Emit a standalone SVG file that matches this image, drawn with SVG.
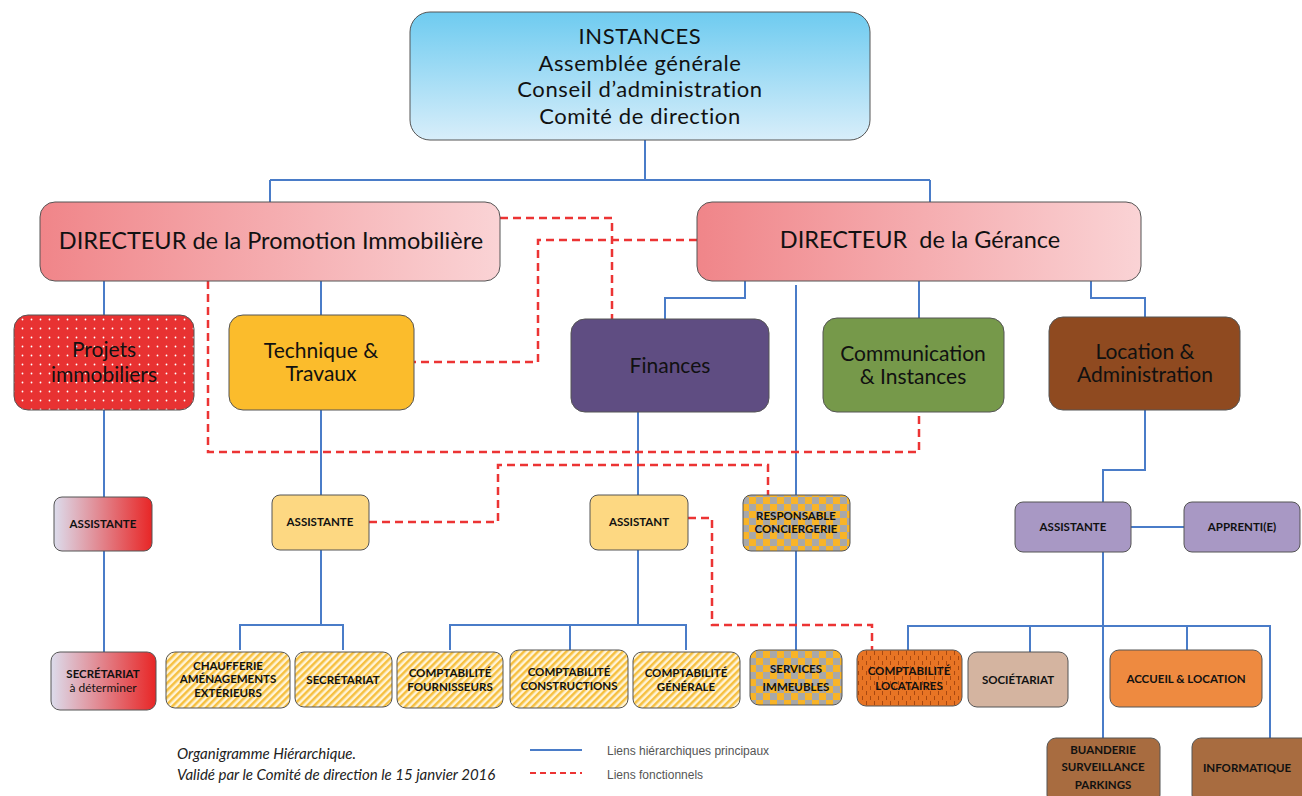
<svg xmlns="http://www.w3.org/2000/svg" width="1302" height="796" viewBox="0 0 1302 796">
<defs>
<linearGradient id="gTop" x1="0" y1="0" x2="0" y2="1"><stop offset="0" stop-color="#6ecbf0"/><stop offset="1" stop-color="#d8eefa"/></linearGradient>
<linearGradient id="gDir" x1="0" y1="0" x2="1" y2="0"><stop offset="0" stop-color="#f08589"/><stop offset="1" stop-color="#fad3d5"/></linearGradient>
<linearGradient id="gRed" x1="0" y1="0" x2="1" y2="0"><stop offset="0" stop-color="#dcdcec"/><stop offset="1" stop-color="#e82626"/></linearGradient>
<pattern id="dots" width="9" height="9" patternUnits="userSpaceOnUse"><rect width="9" height="9" fill="#e83232"/><circle cx="4.5" cy="4.5" r="0.9" fill="#ffffff"/></pattern>
<pattern id="stripes" width="5" height="5" patternUnits="userSpaceOnUse" patternTransform="rotate(45)"><rect width="5" height="5" fill="#fff4d8"/><rect width="2.5" height="5" fill="#f6c040"/></pattern>
<pattern id="checker" width="14" height="14" patternUnits="userSpaceOnUse"><rect width="14" height="14" fill="#a8a8a8"/><rect width="7" height="7" fill="#f8b428"/><rect x="7" y="7" width="7" height="7" fill="#f8b428"/></pattern>
<pattern id="vdash" width="8" height="10" patternUnits="userSpaceOnUse"><rect width="8" height="10" fill="#e87424"/><rect x="2" y="1" width="1" height="4" fill="#a84810"/><rect x="6" y="6" width="1" height="4" fill="#a84810"/></pattern>
</defs>
<style>
.box{stroke:#555;stroke-width:1}
.big{font-family:Lato,"Liberation Sans",sans-serif;font-size:22px;letter-spacing:0.6px;fill:#111;text-anchor:middle}
.dir{font-family:Lato,"Liberation Sans",sans-serif;font-size:23.5px;fill:#111;text-anchor:middle}
.mid{font-family:Lato,"Liberation Sans",sans-serif;font-size:21px;fill:#111;text-anchor:middle}
.sm{font-family:Lato,"Liberation Sans",sans-serif;font-size:11.5px;font-weight:bold;fill:#111;text-anchor:middle}
.smn{font-family:Lato,"Liberation Sans",sans-serif;font-size:12px;fill:#111;text-anchor:middle}
.h{fill:none;stroke:#4a7cc8;stroke-width:2}
.f{fill:none;stroke:#ec3434;stroke-width:2.5;stroke-dasharray:8 5}
.note{font-family:Lato,"Liberation Sans",sans-serif;font-size:15px;font-style:italic;fill:#222}
.leg{font-family:"Liberation Sans Narrow","Liberation Sans",sans-serif;font-size:12px;fill:#555}
</style>

<g id="connectors">
<path class="h" d="M645 140V180M270 180H930M270 180V202M930 180V202"/>
<path class="h" d="M104 281V315M321 281V315"/>
<path class="h" d="M745 281V298H665V319"/>
<path class="h" d="M796 285V495M796 551V650"/>
<path class="h" d="M919 281V318"/>
<path class="h" d="M1091 281V298H1145V317"/>
<path class="h" d="M104 410V497M104 551V652"/>
<path class="h" d="M321 410V495M321 550V625M240 650V625H343V650"/>
<path class="h" d="M638 412V495M638 550V625M450 650V625H686V650M570 625V650"/>
<path class="h" d="M1145 410V470H1103V502M1131 527H1184M1103 552V738"/>
<path class="h" d="M908 650V626H1270V738M1030 626V652M1187 626V650"/>
<path class="f" d="M500 218H612V319"/>
<path class="f" d="M697 240H538V362H414"/>
<path class="f" d="M208 281V452H919V412"/>
<path class="f" d="M369 522H498V465H768V495"/>
<path class="f" d="M688 518H712V625H872V650"/>
</g>

<g id="instances">
<rect class="box" x="410" y="12" width="460" height="128" rx="20" fill="url(#gTop)"/>
<text class="big" x="640" y="44">INSTANCES</text>
<text class="big" x="640" y="70.5">Assemblée générale</text>
<text class="big" x="640" y="97">Conseil d’administration</text>
<text class="big" x="640" y="123.5">Comité de direction</text>
</g>

<g id="dir-promotion">
<rect class="box" x="40" y="202" width="460" height="79" rx="15" fill="url(#gDir)"/>
<text class="dir" x="271" y="249">DIRECTEUR de la Promotion Immobilière</text>
</g>
<g id="dir-gerance">
<rect class="box" x="697" y="202" width="444" height="79" rx="15" fill="url(#gDir)"/>
<text class="dir" x="920" y="248" xml:space="preserve">DIRECTEUR  de la Gérance</text>
</g>

<g id="projets">
<rect class="box" x="14" y="315" width="180" height="95" rx="14" fill="url(#dots)"/>
<text class="mid" x="104" y="357">Projets</text>
<text class="mid" x="104" y="382">immobiliers</text>
</g>
<g id="technique">
<rect class="box" x="229" y="315" width="185" height="95" rx="14" fill="#fbbc2c"/>
<text class="mid" x="321" y="358">Technique &amp;</text>
<text class="mid" x="321" y="381">Travaux</text>
</g>
<g id="finances">
<rect class="box" x="571" y="319" width="198" height="93" rx="14" fill="#5f4d82"/>
<text class="mid" x="670" y="373">Finances</text>
</g>
<g id="communication">
<rect class="box" x="823" y="318" width="181" height="94" rx="14" fill="#76994a"/>
<text class="mid" x="913" y="361">Communication</text>
<text class="mid" x="913" y="384">&amp; Instances</text>
</g>
<g id="location">
<rect class="box" x="1049" y="317" width="191" height="93" rx="14" fill="#8f4a20"/>
<text class="mid" x="1145" y="359">Location &amp;</text>
<text class="mid" x="1145" y="382">Administration</text>
</g>

<g id="assistante-projets">
<rect class="box" x="54" y="497" width="98" height="54" rx="8" fill="url(#gRed)"/>
<text class="sm" x="103" y="528">ASSISTANTE</text>
</g>
<g id="assistante-technique">
<rect class="box" x="272" y="495" width="97" height="55" rx="8" fill="#fdd882"/>
<text class="sm" x="320" y="526">ASSISTANTE</text>
</g>
<g id="assistant-finances">
<rect class="box" x="590" y="495" width="98" height="55" rx="8" fill="#fdd882"/>
<text class="sm" x="639" y="526">ASSISTANT</text>
</g>
<g id="responsable-conciergerie">
<rect class="box" x="743" y="495" width="107" height="56" rx="8" fill="url(#checker)"/>
<text class="sm" x="796" y="520">RESPONSABLE</text>
<text class="sm" x="796" y="533">CONCIERGERIE</text>
</g>
<g id="assistante-location">
<rect class="box" x="1015" y="502" width="116" height="50" rx="8" fill="#a898c4"/>
<text class="sm" x="1073" y="531">ASSISTANTE</text>
</g>
<g id="apprenti">
<rect class="box" x="1184" y="502" width="116" height="50" rx="8" fill="#a898c4"/>
<text class="sm" x="1242" y="531">APPRENTI(E)</text>
</g>

<g id="secretariat-projets">
<rect class="box" x="51" y="652" width="105" height="58" rx="9" fill="url(#gRed)"/>
<text class="sm" x="103" y="678">SECRÉTARIAT</text>
<text class="smn" x="103" y="692">à déterminer</text>
</g>
<g id="chaufferie">
<rect class="box" x="166" y="652" width="124" height="56" rx="9" fill="url(#stripes)"/>
<text class="sm" x="228" y="670">CHAUFFERIE</text>
<text class="sm" x="228" y="683">AMÉNAGEMENTS</text>
<text class="sm" x="228" y="697">EXTÉRIEURS</text>
</g>
<g id="secretariat-technique">
<rect class="box" x="295" y="652" width="97" height="55" rx="9" fill="url(#stripes)"/>
<text class="sm" x="343" y="684">SECRÉTARIAT</text>
</g>
<g id="compta-fournisseurs">
<rect class="box" x="397" y="652" width="106" height="56" rx="9" fill="url(#stripes)"/>
<text class="sm" x="450" y="677">COMPTABILITÉ</text>
<text class="sm" x="450" y="691">FOURNISSEURS</text>
</g>
<g id="compta-constructions">
<rect class="box" x="510" y="650" width="118" height="58" rx="9" fill="url(#stripes)"/>
<text class="sm" x="569" y="676">COMPTABILITÉ</text>
<text class="sm" x="569" y="690">CONSTRUCTIONS</text>
</g>
<g id="compta-generale">
<rect class="box" x="633" y="652" width="107" height="56" rx="9" fill="url(#stripes)"/>
<text class="sm" x="686" y="677">COMPTABILITÉ</text>
<text class="sm" x="686" y="691">GÉNÉRALE</text>
</g>
<g id="services-immeubles">
<rect class="box" x="750" y="650" width="92" height="55" rx="9" fill="url(#checker)"/>
<text class="sm" x="796" y="673">SERVICES</text>
<text class="sm" x="796" y="691">IMMEUBLES</text>
</g>
<g id="compta-locataires">
<rect class="box" x="857" y="650" width="105" height="56" rx="9" fill="url(#vdash)"/>
<text class="sm" x="909" y="675">COMPTABILITÉ</text>
<text class="sm" x="909" y="690">LOCATAIRES</text>
</g>
<g id="societariat">
<rect class="box" x="968" y="652" width="100" height="55" rx="9" fill="#d4b4a0"/>
<text class="sm" x="1018" y="684">SOCIÉTARIAT</text>
</g>
<g id="accueil">
<rect class="box" x="1110" y="650" width="152" height="57" rx="9" fill="#ee8a40"/>
<text class="sm" x="1186" y="683">ACCUEIL &amp; LOCATION</text>
</g>
<g id="buanderie">
<rect class="box" x="1047" y="738" width="113" height="66" rx="9" fill="#a86c40"/>
<text class="sm" x="1103" y="754">BUANDERIE</text>
<text class="sm" x="1103" y="771">SURVEILLANCE</text>
<text class="sm" x="1103" y="789">PARKINGS</text>
</g>
<g id="informatique">
<rect class="box" x="1192" y="738" width="120" height="66" rx="9" fill="#a86c40"/>
<text class="sm" x="1247" y="772">INFORMATIQUE</text>
</g>

<g id="note">
<text class="note" x="177" y="759">Organigramme Hiérarchique.</text>
<text class="note" x="177" y="780">Validé par le Comité de direction le 15 janvier 2016</text>
</g>
<g id="legend">
<line class="h" x1="530" y1="750" x2="582" y2="750"/>
<line class="f" x1="530" y1="773" x2="582" y2="773" style="stroke-width:2;stroke-dasharray:6 4"/>
<text class="leg" x="607" y="755">Liens hiérarchiques principaux</text>
<text class="leg" x="607" y="779">Liens fonctionnels</text>
</g>
</svg>
